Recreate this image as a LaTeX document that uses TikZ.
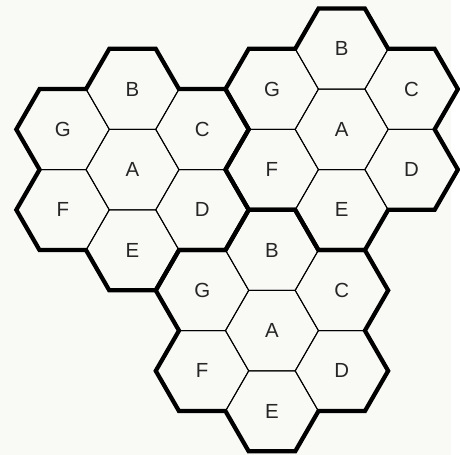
\documentclass[tikz,border=0pt]{standalone}
\usepackage{fontspec}
\setmainfont{Liberation Sans}
\usetikzlibrary{shapes.geometric}
\definecolor{paper}{RGB}{249,249,245}
\begin{document}
\begin{tikzpicture}[
    cell/.style={regular polygon, regular polygon sides=6, minimum size=2cm,
        inner sep=0pt, outer sep=0pt, draw, line width=0.6pt,
        font=\fontsize{12.5}{14}\selectfont, text=black!85},
    rim/.style={line width=2.6pt, line join=miter}]
    % Background
    \fill[paper] (-2.851,-6.138) rectangle (6.851,3.649);

    % Three clusters of seven cells
    \foreach \k/\x/\y in {1/0/0, 2/4.5/0.866, 3/3/-3.464} {
        \node[cell] (A\k) at (\x,\y) {A};
        \node[cell] (B\k) at ([shift={(90:1.732)}]A\k) {B};
        \node[cell] (C\k) at ([shift={(30:1.732)}]A\k) {C};
        \node[cell] (D\k) at ([shift={(-30:1.732)}]A\k) {D};
        \node[cell] (E\k) at ([shift={(-90:1.732)}]A\k) {E};
        \node[cell] (F\k) at ([shift={(210:1.732)}]A\k) {F};
        \node[cell] (G\k) at ([shift={(150:1.732)}]A\k) {G};

        % Cluster outline
        \draw[rim] (E\k.180) -- (E\k.240) -- (E\k.300) -- (D\k.240) -- (D\k.300) -- (D\k.0)
            -- (C\k.300) -- (C\k.0) -- (C\k.60) -- (B\k.0) -- (B\k.60) -- (B\k.120)
            -- (G\k.60) -- (G\k.120) -- (G\k.180) -- (F\k.120) -- (F\k.180) -- (F\k.240) -- cycle;
    }
\end{tikzpicture}
\end{document}
